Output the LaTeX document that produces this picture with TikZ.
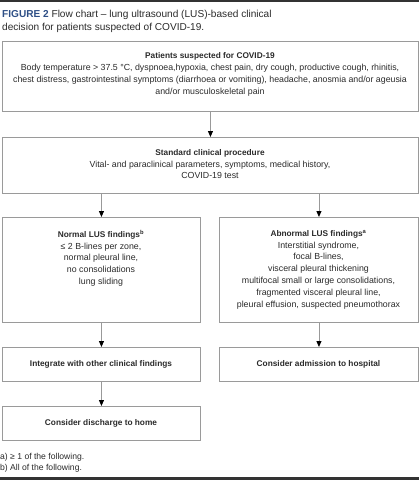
\documentclass[tikz,border=0pt]{standalone}
\usepackage{fontspec}
\setmainfont{Liberation Sans}
\usetikzlibrary{arrows.meta}
\definecolor{boxgray}{HTML}{9A9A9A}
\definecolor{linegray}{HTML}{999999}
\definecolor{txt}{HTML}{2A2A2A}
\definecolor{figblue}{HTML}{2E4F86}
\definecolor{bar}{HTML}{333333}
\newcommand\hd[1]{{\fontsize{8.3}{11.8}\selectfont\bfseries #1}}
\begin{document}
\begin{tikzpicture}[x=1pt,y=-1pt,
  box/.style={draw=boxgray, line width=0.9pt, inner sep=0pt, anchor=north west},
  btext/.style={inner sep=0pt, anchor=north, align=center, text=txt,
    font=\fontsize{8.8}{11.8}\selectfont},
  note/.style={inner sep=0pt, anchor=base west, text=txt, font=\fontsize{8.6}{10}\selectfont},
  conn/.style={draw=linegray, line width=0.9pt, -{Triangle[length=6pt,width=5pt,color=black]}}
]
\useasboundingbox (0,0) rectangle (419,480);
\fill[bar] (0,0) rectangle (419,1.6);
\fill[bar] (0,477) rectangle (419,480);
\node[inner sep=0pt, anchor=north west, align=left, text=txt, font=\fontsize{10.1}{13}\selectfont] (title) at (2,10)
  {{\color{figblue}\bfseries FIGURE 2} Flow chart – lung ultrasound (LUS)-based clinical\\decision for patients suspected of COVID-19.};

\node[box, minimum width=416pt, minimum height=70pt] (b1) at (2,41) {};
\node[btext] (t1) at (210,52.5)
  {\hd{Patients suspected for COVID-19}\\
   Body temperature > 37.5 °C, dyspnoea,hypoxia, chest pain, dry cough, productive cough, rhinitis,\\
   chest distress, gastrointestinal symptoms (diarrhoea or vomiting), headache, anosmia and/or ageusia\\
   and/or musculoskeletal pain};

\node[box, minimum width=416pt, minimum height=56pt] (b2) at (2,137) {};
\node[btext] (t2) at (210,149)
  {\hd{Standard clinical procedure}\\
   Vital- and paraclinical parameters, symptoms, medical history,\\
   COVID-19 test};

\node[box, minimum width=198pt, minimum height=105pt] (b3l) at (2,217) {};
\node[btext] (t3l) at (101,230)
  {\hd{Normal LUS findings\textsuperscript{b}}\\
   ≤ 2 B-lines per zone,\\
   normal pleural line,\\
   no consolidations\\
   lung sliding};

\node[box, minimum width=199pt, minimum height=105pt] (b3r) at (219,217) {};
\node[btext] (t3r) at (318.5,230)
  {\hd{Abnormal LUS findings\textsuperscript{a}}\\
   Interstitial syndrome,\\
   focal B-lines,\\
   visceral pleural thickening\\
   multifocal small or large consolidations,\\
   fragmented visceral pleural line,\\
   pleural effusion, suspected pneumothorax};

\node[box, minimum width=198pt, minimum height=34pt] (b4l) at (2,347) {};
\node[btext] (t4l) at (101,360) {\hd{Integrate with other clinical findings}};

\node[box, minimum width=199pt, minimum height=34pt] (b4r) at (219,347) {};
\node[btext] (t4r) at (318.5,360) {\hd{Consider admission to hospital}};

\node[box, minimum width=198pt, minimum height=34pt] (b5) at (2,406) {};
\node[btext] (t5) at (101,419) {\hd{Consider discharge to home}};

\node[note] (na) at (0,459) {a) ≥ 1 of the following.};
\node[note] (nb) at (0,470.5) {b) All of the following.};

\draw[conn] (b1.south) -- (b2.north);
\draw[conn] (b2.south -| b3l.north) -- (b3l.north);
\draw[conn] (b2.south -| b3r.north) -- (b3r.north);
\draw[conn] (b3l.south) -- (b4l.north);
\draw[conn] (b3r.south) -- (b4r.north);
\draw[conn] (b4l.south) -- (b5.north);
\end{tikzpicture}
\end{document}
